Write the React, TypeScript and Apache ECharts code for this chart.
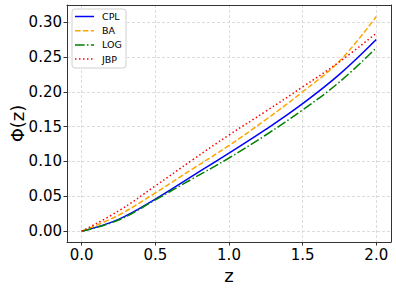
import React, { useEffect, useRef } from "react";
import * as echarts from "echarts";

const zValues = [0, 0.25, 0.5, 0.75, 1.0, 1.25, 1.5, 1.75, 2.0];
const cplValues = [0, 0.017, 0.046, 0.079, 0.112, 0.146, 0.183, 0.225, 0.275];
const baValues = [0, 0.023, 0.055, 0.089, 0.123, 0.16, 0.2, 0.244, 0.308];
const logValues = [0, 0.016, 0.045, 0.075, 0.105, 0.138, 0.174, 0.214, 0.263];
const jbpValues = [0, 0.029, 0.065, 0.102, 0.138, 0.172, 0.207, 0.243, 0.284];

const seriesNames = ["CPL", "BA", "LOG", "JBP"];
const xTicks = [0, 0.5, 1.0, 1.5, 2.0];
const yTicks = [0, 0.05, 0.1, 0.15, 0.2, 0.25, 0.3];

const FONT = "DejaVu Sans";

const styles = [
  { color: "#0000ff", dash: "solid" as any },
  { color: "#ffa500", dash: [5.5, 2.4] },
  { color: "#008000", dash: [9.6, 2.4, 1.5, 2.4] },
  { color: "#ff0000", dash: [1.5, 2.5] },
];

const frameLine = { show: true, onZero: false, lineStyle: { color: "#333", width: 1 } };

export default function App() {
  const ref = useRef<HTMLDivElement>(null);
  useEffect(() => {
    if (!ref.current) return;
    const chart = echarts.init(ref.current, null, { renderer: "svg" });
    const allValues = [cplValues, baValues, logValues, jbpValues];
    const series = allValues.map((vals, i) => ({
      name: seriesNames[i],
      type: "line",
      xAxisIndex: 0,
      yAxisIndex: 0,
      data: zValues.map((z, k) => [z, vals[k]]),
      showSymbol: false,
      symbol: "none",
      smooth: 0.4,
      lineStyle: { color: styles[i].color, width: 1.5, type: styles[i].dash },
      itemStyle: { color: styles[i].color },
    }));

    const legendX = 72;
    const legendY = 9;
    const rowH = 14.2;
    const legendGraphics: any[] = [
      {
        type: "rect",
        shape: { x: legendX, y: legendY, width: 54, height: 59, r: 3 },
        style: { fill: "rgba(255,255,255,0.85)", stroke: "#d0d0d0", lineWidth: 1 },
        z: 100,
      },
    ];
    seriesNames.forEach((name, i) => {
      const cy = legendY + 7.5 + i * rowH;
      legendGraphics.push({
        type: "line",
        shape: { x1: legendX + 3, y1: cy, x2: legendX + 22, y2: cy },
        style: {
          stroke: styles[i].color,
          lineWidth: 1.5,
          lineDash: Array.isArray(styles[i].dash) ? styles[i].dash : null,
        },
        z: 101,
      });
      legendGraphics.push({
        type: "text",
        x: legendX + 30,
        y: cy,
        style: {
          text: name,
          fill: "#000",
          fontSize: 9.5,
          fontFamily: FONT,
          verticalAlign: "middle",
          align: "left",
        },
        z: 101,
      });
    });

    chart.setOption({
      animation: false,
      backgroundColor: "#ffffff",
      textStyle: { fontFamily: FONT },
      grid: {
        left: 67,
        right: 5,
        top: 5,
        bottom: 47,
        containLabel: false,
        outerBoundsMode: "none",
      },
      xAxis: [
        {
          type: "value",
          min: -0.1,
          max: 2.1,
          splitNumber: 5,
          name: "z",
          nameLocation: "middle",
          nameGap: 24,
          nameMoveOverlap: false,
          nameTextStyle: { fontSize: 18, color: "#000", fontFamily: FONT },
          axisLine: frameLine,
          axisTick: { show: true, length: 3.5, customValues: xTicks, lineStyle: { color: "#333" } },
          axisLabel: {
            customValues: xTicks,
            fontSize: 15,
            color: "#000",
            margin: 5,
            fontFamily: FONT,
            formatter: (v: number) => v.toFixed(1),
          },
          splitLine: { show: true, lineStyle: { color: "#d3d3d3", width: 0.8, type: [3, 2] } },
        },
        {
          type: "value",
          position: "top",
          min: -0.1,
          max: 2.1,
          axisLine: frameLine,
          axisTick: { show: false },
          axisLabel: { show: false },
          splitLine: { show: false },
        },
      ],
      yAxis: [
        {
          type: "value",
          min: -0.0155,
          max: 0.3245,
          splitNumber: 7,
          name: "Φ(z)",
          nameLocation: "middle",
          nameGap: 41,
          nameMoveOverlap: false,
          nameTextStyle: { fontSize: 18, color: "#000", fontFamily: FONT },
          axisLine: frameLine,
          axisTick: { show: true, length: 3.5, customValues: yTicks, lineStyle: { color: "#333" } },
          axisLabel: {
            customValues: yTicks,
            fontSize: 15,
            color: "#000",
            margin: 5,
            fontFamily: FONT,
            formatter: (v: number) => v.toFixed(2),
          },
          splitLine: { show: true, lineStyle: { color: "#d3d3d3", width: 0.8, type: [3, 2] } },
        },
        {
          type: "value",
          position: "right",
          min: -0.0155,
          max: 0.3245,
          axisLine: frameLine,
          axisTick: { show: false },
          axisLabel: { show: false },
          splitLine: { show: false },
        },
      ],
      series,
      graphic: legendGraphics,
    });
    return () => chart.dispose();
  }, []);
  return (
    <div
      ref={ref}
      style={{ position: "absolute", left: 0, top: 0, width: 396, height: 289 }}
    />
  );
}
